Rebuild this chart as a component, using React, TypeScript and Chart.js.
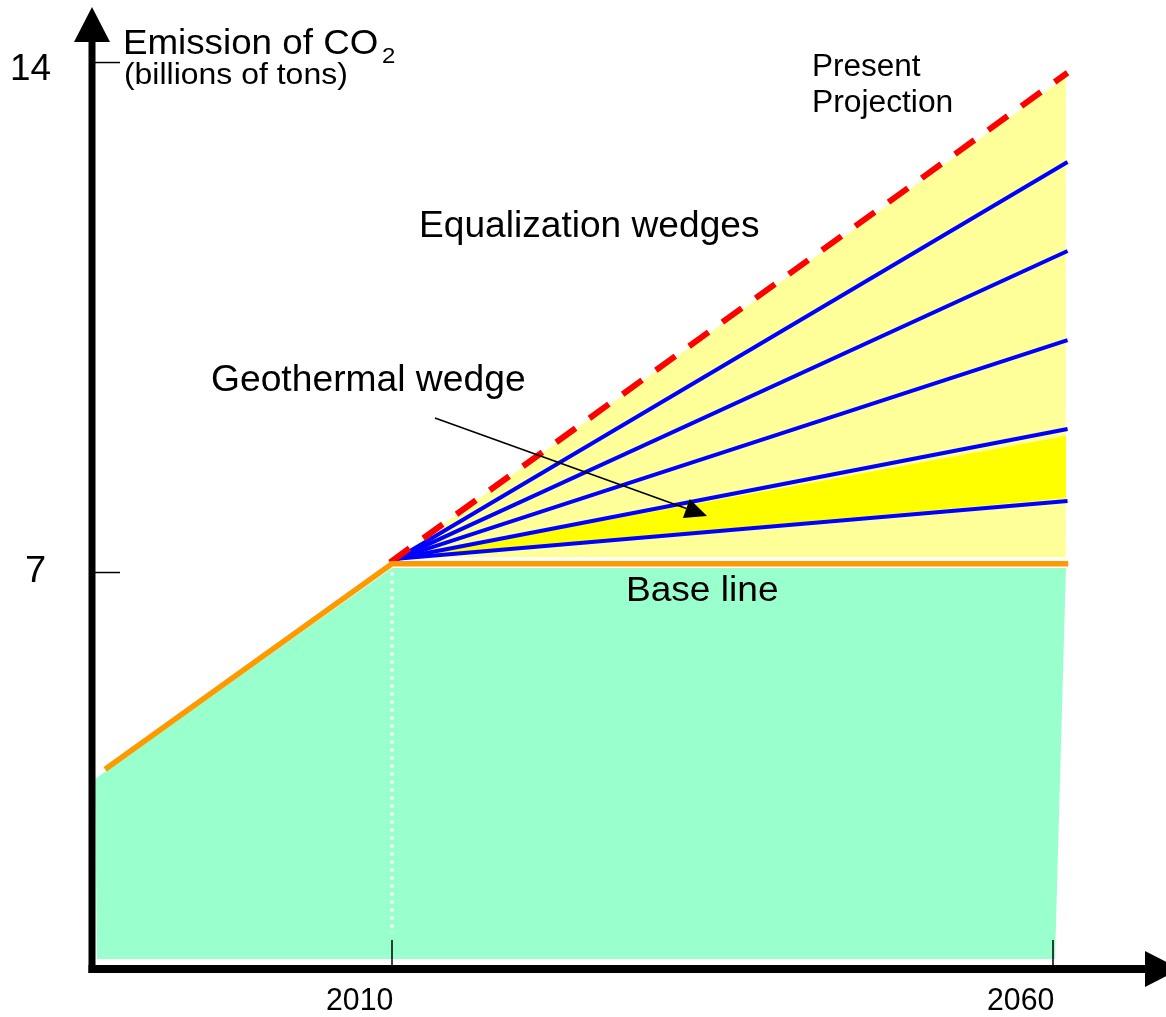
import { useEffect, useRef } from "react";
import { Chart, registerables } from "chart.js";

Chart.register(...registerables);

// ---- axis bounds & ticks ----
const X_MIN = 1987.307;
const X_MAX = 2067.337;
const Y_MIN = 1.558;
const Y_MAX = 14.721;
const xTicks = [2010, 2060];
const xTickLabels = ["2010", "2060"];
const yTicks = [7, 14];
const yTickLabels = ["7", "14"];

// ---- data ----
// green emission area (closed outline)
const emissionAreaYears = [1987.53, 2010, 2060.98, 2060.15, 1987.69];
const emissionAreaValues = [4.166, 7.062, 7.062, 1.695, 1.695];

// orange historic trend + base line
const baseLineYears = [1988.3, 2010, 2061.15];
const baseLineValues = [4.3, 7.12, 7.12];

// red dashed present projection
const projectionYears = [2009.85, 2061.1];
const projectionValues = [7.14, 13.86];

// light yellow equalization wedge area
const equalizationYears = [2010.4, 2060.98];
const equalizationTop = [7.21, 13.8];
const equalizationFloor = 7.21;

// blue wedge dividers
const wedgeYears = [2010.38, 2061.1];
const wedgeStartValue = 7.19;
const wedgeEndValues = [12.634, 11.413, 10.191, 8.969, 7.981];

// bright yellow geothermal wedge
const geoWedgeYears = [2010.38, 2060.98];
const geoWedgeTop = [7.19, 8.874];
const geoWedgeBottom = [7.19, 8.023];

// white dotted divider at 2010
const dividerYears = [2010, 2010];
const dividerValues = [7.0, 2.05];

// geothermal annotation arrow (data coordinates)
const geoArrowFrom = { x: 2013.25, y: 9.121 };
const geoArrowTo = { x: 2033.83, y: 7.776 };

const FONT = '"Liberation Sans", Arial, Helvetica, sans-serif';

const labels = [
  { text: "Emission of CO", left: 125, baseline: 54, size: 35, width: 252 },
  { text: "2", left: 383, baseline: 63, size: 22, width: 12 },
  { text: "(billions of tons)", left: 125, baseline: 84, size: 29, width: 221 },
  { text: "Present", left: 814, baseline: 76, size: 31, width: 107 },
  { text: "Projection", left: 814, baseline: 112, size: 31, width: 138 },
  { text: "Equalization wedges", left: 422, baseline: 237, size: 37, width: 337 },
  { text: "Geothermal wedge", left: 212, baseline: 391, size: 37, width: 312 },
  { text: "Base line", left: 628, baseline: 601, size: 35, width: 149 },
];

const pts = (xs: number[], ys: number[]) => xs.map((x, i) => ({ x, y: ys[i] }));

function fitText(ctx: CanvasRenderingContext2D, text: string, left: number, baseline: number, size: number, width: number) {
  ctx.font = `${size}px ${FONT}`;
  ctx.textAlign = "left";
  ctx.textBaseline = "alphabetic";
  const m = ctx.measureText(text);
  const ink = m.actualBoundingBoxLeft + m.actualBoundingBoxRight;
  const s = ink > 0 ? width / ink : 1;
  ctx.save();
  ctx.translate(left, baseline);
  ctx.scale(s, 1);
  ctx.fillText(text, m.actualBoundingBoxLeft, 0);
  ctx.restore();
}

const decorPlugin = {
  id: "decor",
  afterDatasetsDraw(chart: any) {
    const ctx: CanvasRenderingContext2D = chart.ctx;
    const xs = chart.scales.x;
    const ys = chart.scales.y;
    const area = chart.chartArea;
    const ax = area.left;
    const ay = area.bottom;
    ctx.save();
    ctx.fillStyle = "#000";
    ctx.strokeStyle = "#000";

    // geothermal arrow
    const fx = xs.getPixelForValue(geoArrowFrom.x);
    const fy = ys.getPixelForValue(geoArrowFrom.y);
    const tx = xs.getPixelForValue(geoArrowTo.x);
    const ty = ys.getPixelForValue(geoArrowTo.y);
    const ang = Math.atan2(ty - fy, tx - fx);
    const headL = 22;
    const headW = 10;
    const bx = tx - headL * Math.cos(ang);
    const by = ty - headL * Math.sin(ang);
    ctx.lineWidth = 1.6;
    ctx.beginPath();
    ctx.moveTo(fx, fy);
    ctx.lineTo(bx, by);
    ctx.stroke();
    ctx.beginPath();
    ctx.moveTo(tx, ty);
    ctx.lineTo(bx + headW * Math.sin(ang), by - headW * Math.cos(ang));
    ctx.lineTo(bx - headW * Math.sin(ang), by + headW * Math.cos(ang));
    ctx.closePath();
    ctx.fill();

    // tick marks
    ctx.lineWidth = 1.5;
    yTicks.forEach((v) => {
      const py = ys.getPixelForValue(v);
      ctx.beginPath();
      ctx.moveTo(ax, py);
      ctx.lineTo(ax + 28, py);
      ctx.stroke();
    });
    xTicks.forEach((v) => {
      const px = xs.getPixelForValue(v);
      ctx.beginPath();
      ctx.moveTo(px, ay);
      ctx.lineTo(px, ay - 29);
      ctx.stroke();
    });

    // vertical axis with arrow
    ctx.lineWidth = 7;
    ctx.beginPath();
    ctx.moveTo(ax, ay + 4);
    ctx.lineTo(ax, 38);
    ctx.stroke();
    ctx.beginPath();
    ctx.moveTo(ax, 7);
    ctx.lineTo(ax - 18, 42);
    ctx.lineTo(ax + 18, 42);
    ctx.closePath();
    ctx.fill();

    // horizontal axis with arrow
    ctx.lineWidth = 8;
    ctx.beginPath();
    ctx.moveTo(ax - 3.5, ay);
    ctx.lineTo(1150, ay);
    ctx.stroke();
    ctx.beginPath();
    ctx.moveTo(1180, ay);
    ctx.lineTo(1145, ay - 18);
    ctx.lineTo(1145, ay + 18);
    ctx.closePath();
    ctx.fill();

    // tick labels
    fitText(ctx, yTickLabels[1], 12, 80, 36, 38);
    fitText(ctx, yTickLabels[0], 26, 582, 36, 19);
    xTicks.forEach((v, i) => {
      const px = xs.getPixelForValue(v);
      fitText(ctx, xTickLabels[i], px - 65, 1010, 31, 66);
    });

    // annotation texts
    labels.forEach((l) => fitText(ctx, l.text, l.left, l.baseline, l.size, l.width));
    ctx.restore();
  },
};

export default function App() {
  const ref = useRef<HTMLCanvasElement | null>(null);
  useEffect(() => {
    if (!ref.current) return;
    const blueSets = wedgeEndValues.map((end) => ({
      data: pts(wedgeYears, [wedgeStartValue, end]),
      borderColor: "#0000FF",
      borderWidth: 4,
      pointRadius: 0,
      fill: false,
      order: 4,
    }));
    const chart = new Chart(ref.current, {
      type: "line",
      data: {
        datasets: [
          {
            data: pts(emissionAreaYears, emissionAreaValues),
            borderWidth: 0,
            borderColor: "rgba(0,0,0,0)",
            backgroundColor: "#99FFCC",
            fill: "shape",
            pointRadius: 0,
            order: 10,
          },
          {
            data: pts(equalizationYears, equalizationTop),
            borderWidth: 0,
            borderColor: "rgba(0,0,0,0)",
            backgroundColor: "#FFFF99",
            fill: { value: equalizationFloor },
            pointRadius: 0,
            order: 9,
          },
          {
            data: pts(geoWedgeYears, geoWedgeTop),
            borderWidth: 0,
            borderColor: "rgba(0,0,0,0)",
            backgroundColor: "#FFFF00",
            fill: "+1",
            pointRadius: 0,
            order: 8,
          },
          {
            data: pts(geoWedgeYears, geoWedgeBottom),
            borderWidth: 0,
            borderColor: "rgba(0,0,0,0)",
            backgroundColor: "rgba(0,0,0,0)",
            fill: false,
            pointRadius: 0,
            order: 7,
          },
          ...blueSets,
          {
            data: pts(projectionYears, projectionValues),
            borderColor: "#FF0000",
            borderWidth: 6,
            borderDash: [24, 17],
            pointRadius: 0,
            fill: false,
            order: 3,
          },
          {
            data: pts(baseLineYears, baseLineValues),
            borderColor: "#FF9900",
            borderWidth: 5.5,
            pointRadius: 0,
            fill: false,
            order: 2,
          },
          {
            data: pts(dividerYears, dividerValues),
            borderColor: "#FFFFFF",
            borderWidth: 3,
            borderDash: [3, 5],
            pointRadius: 0,
            fill: false,
            order: 1,
          },
        ] as any,
      },
      options: {
        animation: false,
        responsive: false,
        devicePixelRatio: 1,
        layout: { padding: { left: 92, right: 16, top: 10, bottom: 48 } },
        plugins: { legend: { display: false }, tooltip: { enabled: false }, title: { display: false } },
        elements: { line: { tension: 0 } },
        scales: {
          x: { type: "linear", min: X_MIN, max: X_MAX, display: false },
          y: { type: "linear", min: Y_MIN, max: Y_MAX, display: false },
        },
      } as any,
      plugins: [decorPlugin],
    });
    return () => chart.destroy();
  }, []);
  return (
    <div style={{ position: "absolute", left: 0, top: 0, width: 1166, height: 1017, background: "#fff" }}>
      <canvas ref={ref} width={1166} height={1017} style={{ display: "block", width: 1166, height: 1017 }} />
    </div>
  );
}
